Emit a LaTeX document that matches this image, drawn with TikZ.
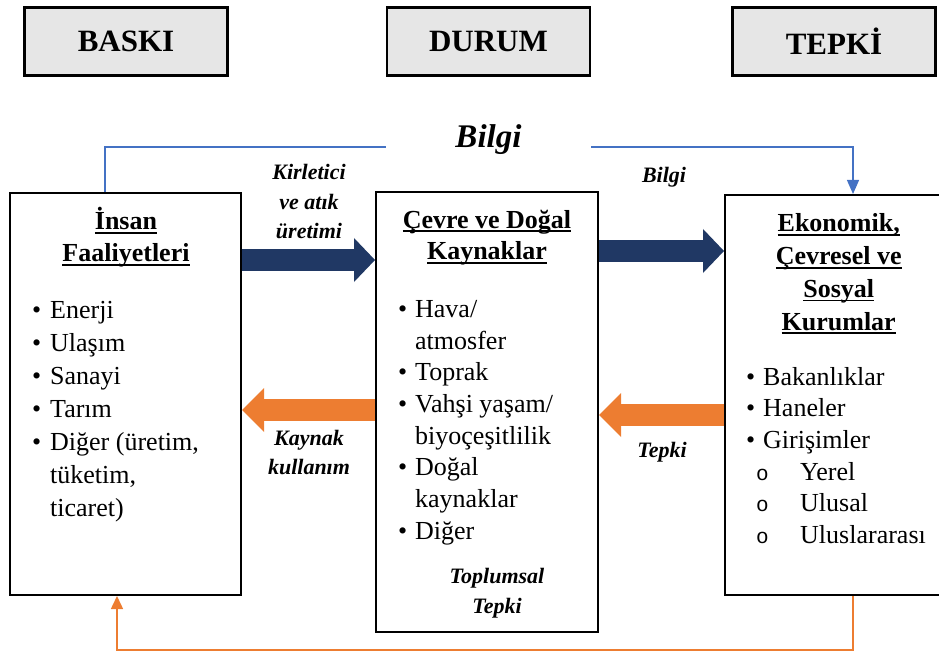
\documentclass[tikz,border=0pt]{standalone}
\usepackage{fontspec}
\setmainfont{Liberation Serif}
\setmonofont{Liberation Mono}
\usetikzlibrary{arrows.meta}

\definecolor{navy}{HTML}{203864}
\definecolor{orng}{HTML}{ED7D31}
\definecolor{infoblue}{HTML}{4472C4}
\definecolor{headgray}{HTML}{E6E6E6}

% underlined heading line, bullet items
\newcommand\hul[1]{\setbox0\hbox{#1}\rlap{\rule[-4pt]{\wd0}{1.8pt}}\box0}
\newcommand\itm[2][18pt]{\makebox[#1][l]{\textbullet}#2\strut}
\newcommand\contline[2][18pt]{\hspace*{#1}#2\strut}
\newcommand\subitm[1]{\hspace*{10pt}\makebox[44pt][l]{\fontsize{21}{21}\selectfont\texttt{o}}#1\strut}

\begin{document}
\begin{tikzpicture}[x=1pt, y=-1pt,
  headbox/.style={draw, line width=2.5pt, fill=headgray, minimum width=203pt,
    minimum height=68pt, font=\fontsize{31}{31}\selectfont\bfseries},
  mainbox/.style={draw, line width=2pt},
  heading/.style={align=center, inner sep=0pt, font=\fontsize{26}{#1}\selectfont\bfseries},
  listtxt/.style={align=left, inner sep=0pt, anchor=north west, font=\fontsize{26}{#1}\selectfont},
  flowtxt/.style={align=center, inner sep=0pt, font=\fontsize{22}{#1}\selectfont\bfseries\itshape},
  navyarr/.style={navy, line width=22pt, -{Triangle[length=21pt, width=44pt, line width=0pt]}},
  orngarr/.style={orng, line width=22pt, -{Triangle[length=22pt, width=44pt, line width=0pt]}},
  infoline/.style={infoblue, line width=1.3pt, -{Triangle[length=14pt, width=12pt]}},
  feedline/.style={orng, line width=1.5pt, -{Triangle[length=13pt, width=12pt]}}]
  \useasboundingbox (0,0) rectangle (939,652);
  \clip (0,0) rectangle (939,652);

  % top row
  \node[headbox] (baski) at (126,41.5) {BASKI};
  \node[headbox] (durum) at (488.5,41.5) {DURUM};
  \node[headbox] (tepki) at (834,41.5) {TEPKİ};

  % main boxes
  \node[mainbox, minimum width=231pt, minimum height=402pt] (insan) at (125.5,394) {};
  \node[mainbox, minimum width=222pt, minimum height=440pt] (cevre) at (487,412) {};
  \node[mainbox, minimum width=220pt, minimum height=400pt] (kurum) at (835,395) {};

  \node[heading=32] (insanh) at (126,239.6) {\hul{İnsan}\strut\\\hul{Faaliyetleri}\strut};
  \node[heading=32] (cevreh) at (487,237.6) {\hul{Çevre ve Doğal}\strut\\\hul{Kaynaklar}\strut};
  \node[heading=32.7] (kurumh) at (838.7,274.5) {\hul{Ekonomik,}\strut\\\hul{Çevresel ve}\strut\\
    \hul{Sosyal}\strut\\\hul{Kurumlar}\strut};

  \node[listtxt=33] (insanl) at (32,295) {\itm{Enerji}\\\itm{Ulaşım}\\\itm{Sanayi}\\\itm{Tarım}\\
    \itm{Diğer (üretim,}\\\contline{tüketim,}\\\contline{ticaret)}};
  \node[listtxt=31.7] (cevrel) at (398,295) {\itm[17pt]{Hava/}\\\contline[17pt]{atmosfer}\\
    \itm[17pt]{Toprak}\\\itm[17pt]{Vahşi yaşam/}\\\contline[17pt]{biyoçeşitlilik}\\
    \itm[17pt]{Doğal}\\\contline[17pt]{kaynaklar}\\\itm[17pt]{Diğer}};
  \node[listtxt=31.6] (kuruml) at (746,363) {\itm[17pt]{Bakanlıklar}\\\itm[17pt]{Haneler}\\
    \itm[17pt]{Girişimler}\\\subitm{Yerel}\\\subitm{Ulusal}\\\subitm{Uluslararası}};

  % flow labels
  \node[flowtxt=29.5] (kirl) at (309,203.6) {Kirletici\strut\\ve atık\strut\\üretimi\strut};
  \node[flowtxt=29] (kayn) at (309,453.7) {Kaynak\strut\\kullanım\strut};
  \node[flowtxt=30] (topl) at (497,592) {Toplumsal\strut\\Tepki\strut};
  \node[flowtxt=22, anchor=base] (bilgis) at (664,183) {Bilgi};
  \node[flowtxt=22, anchor=base] (tepkis) at (662,457) {Tepki};
  \node[anchor=base, minimum width=205pt, inner sep=0pt,
    font=\fontsize{33}{33}\selectfont\bfseries\itshape] (bilgi) at (488.5,148) {Bilgi};

  % block arrows
  \coordinate (ya) at (0,260);
  \coordinate (yb) at (0,251);
  \coordinate (yc) at (0,410);
  \coordinate (yd) at (0,415);
  \draw[navyarr] (insan.east |- ya) -- (cevre.west |- ya);
  \draw[navyarr] (cevre.east |- yb) -- (kurum.west |- yb);
  \draw[orngarr] (cevre.west |- yc) -- (insan.east |- yc);
  \draw[orngarr] (kurum.west |- yd) -- (cevre.east |- yd);

  % information and feedback lines
  \coordinate (il) at (105,147);
  \coordinate (ir) at (853,147);
  \draw[infoline, -] (insan.north -| il) |- (bilgi.west |- il);
  \draw[infoline] (bilgi.east |- ir) -| (kurum.north -| ir);
  \coordinate (fr) at (853,650);
  \coordinate (fl) at (117,650);
  \draw[feedline] (kurum.south -| fr) -- (fr) -- (fl) -- (insan.south -| fl);
\end{tikzpicture}
\end{document}
